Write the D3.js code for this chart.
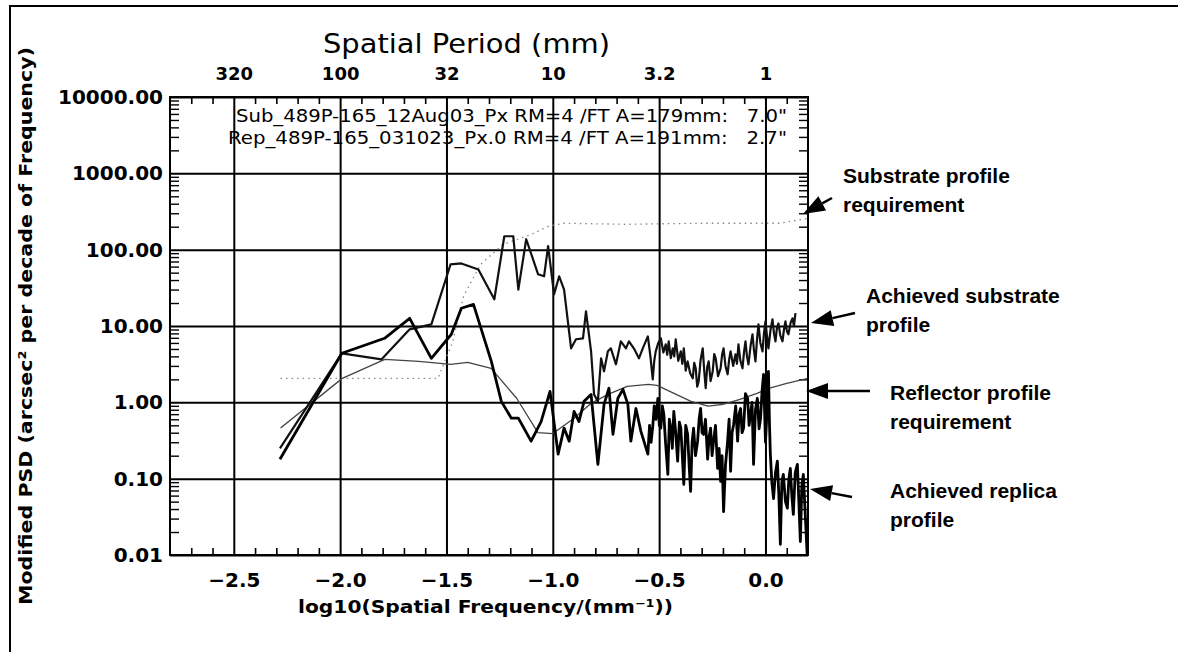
<!DOCTYPE html>
<html>
<head>
<meta charset="utf-8">
<script src="https://cdn.jsdelivr.net/npm/d3@7"></script>
<style>
body { margin: 0; background: #fff; overflow: hidden; }
text { fill: #000; }
</style>
</head>
<body>
<div id="chart"></div>
<script>
const width = 1178
const height = 652
const plot = { left: 170, right: 808, top: 97, bottom: 555 }

// ticks
const xMajor = [-2.5, -2.0, -1.5, -1.0, -0.5, 0.0]
const periodLabels = ["320", "100", "32", "10", "3.2", "1"]
const yMajor = [0.01, 0.1, 1, 10, 100, 1000, 10000]

// substrate profile requirement (dotted)
const subReqX = [-2.28, -1.54, -1.47, -1.42, -1.34, -1.235, -1.10, -1.02, -0.95, -0.66, -0.30, 0.07, 0.20]
const subReqY = [2.06, 2.06, 6.3, 24.5, 64, 117, 159, 203, 222, 215, 222, 222, 258]

// reflector profile requirement (thin)
const refReqX = [-2.28, -1.99, -1.79, -1.63, -1.48, -1.40, -1.29, -1.17, -1.07, -1.0, -0.90, -0.82, -0.74, -0.65, -0.55, -0.51, -0.43, -0.35, -0.27, -0.20, -0.12, -0.04, 0.02, 0.10, 0.20]
const refReqY = [0.46, 2.06, 3.66, 3.44, 3.15, 3.34, 2.79, 1.13, 0.40, 0.39, 0.62, 0.97, 1.27, 1.62, 1.72, 1.67, 1.31, 1.03, 0.89, 0.94, 1.09, 1.31, 1.53, 1.77, 2.06]

// achieved substrate profile
const subAchX = [-2.283, -1.992, -1.805, -1.673, -1.571, -1.481, -1.430, -1.350, -1.275, -1.228, -1.186, -1.162, -1.125, -1.069, -1.041, -1.022, -0.994, -0.970, -0.947, -0.914, -0.891, -0.858, -0.844, -0.820, -0.806, -0.788, -0.773, -0.759, -0.741, -0.727, -0.703, -0.680, -0.656, -0.642, -0.619, -0.595, -0.577,
    -0.553, -0.541, -0.530, -0.523, -0.516, -0.504, -0.492, -0.480, -0.469, -0.462, -0.455, -0.445, -0.436, -0.429, -0.422, -0.410, -0.398, -0.391, -0.384, -0.375, -0.366, -0.354, -0.342, -0.335, -0.328, -0.321, -0.314, -0.305, -0.295, -0.288, -0.281, -0.274, -0.267, -0.258, -0.248, -0.241, -0.234, -0.223, -0.211, -0.204, -0.197, -0.188, -0.178, -0.171, -0.164, -0.152, -0.141, -0.134, -0.127, -0.118, -0.108, -0.101, -0.094, -0.087, -0.080, -0.070, -0.061, -0.054, -0.047, -0.040, -0.033, -0.024, -0.014, -0.007, 0.0, 0.007, 0.014, 0.024, 0.033, 0.040, 0.047, 0.054, 0.061, 0.070, 0.080, 0.087, 0.094, 0.101, 0.108, 0.118, 0.127, 0.134, 0.141]
const subAchY = [0.25, 4.39, 3.66, 9.05, 10.5, 64, 66, 55, 22.4, 150, 150, 30, 137, 47.6, 44.8, 111, 26, 44.8, 30, 5.1, 6.7, 6.9, 15.6, 4.66, 1.27, 1.03, 3.77, 2.55, 4.66, 5.1, 3.15, 6.3, 5.1, 6.3, 5.1, 3.77, 5.1,
    7.3, 4.0, 2.0, 3.5, 4.66, 6.0, 6.9, 4.5, 5.75, 4.2, 6.3, 3.8, 5.1, 4.0, 6.7, 3.5, 4.66, 3.2, 5.1, 2.6, 3.44, 2.4, 2.06, 3.3, 2.79, 1.6, 1.88, 3.6, 5.1, 2.6, 1.53, 2.9, 3.44, 1.9, 2.55, 4.3, 3.77, 2.2, 2.79, 4.2, 5.1, 3.0, 2.33, 3.6, 4.66, 3.0, 4.26, 3.2, 5.75, 3.5, 2.79, 4.5, 6.3, 4.0, 3.15, 5.5, 7.8, 4.8, 3.44, 6.5, 10.5, 6.0, 4.66, 8.0, 11.5, 7.5, 5.1, 9.0, 12.2, 8.0, 6.3, 9.5, 10.8, 7.5, 6.3, 9.0, 11.5, 8.5, 7.8, 11.0, 12.6, 10.0, 14.7]

// achieved replica profile
const repAchX = [-2.283, -1.992, -1.791, -1.673, -1.571, -1.477, -1.430, -1.373, -1.289, -1.242, -1.195, -1.162, -1.102, -1.055, -1.013, -0.975, -0.947, -0.923, -0.900, -0.877, -0.853, -0.820, -0.788, -0.759, -0.736, -0.717, -0.694, -0.670, -0.647, -0.633, -0.609, -0.586,
    -0.553, -0.545, -0.538, -0.530, -0.523, -0.515, -0.506, -0.499, -0.492, -0.485, -0.478, -0.470, -0.459, -0.452, -0.445, -0.438, -0.431, -0.422, -0.413, -0.405, -0.398, -0.391, -0.384, -0.375, -0.366, -0.359, -0.352, -0.345, -0.338, -0.329, -0.319, -0.312, -0.305, -0.298, -0.291, -0.282, -0.272, -0.265, -0.258, -0.251, -0.244, -0.235, -0.225, -0.218, -0.211, -0.204, -0.197, -0.188, -0.178, -0.171, -0.164, -0.157, -0.150, -0.140, -0.131, -0.124, -0.117, -0.110, -0.103, -0.094, -0.084, -0.077, -0.070, -0.063, -0.056, -0.047, -0.038, -0.030, -0.023, -0.016, -0.009, 0.000, 0.005, 0.010, 0.014, 0.019, 0.023, 0.030, 0.038, 0.047, 0.056, 0.063, 0.070, 0.077, 0.084, 0.094, 0.103, 0.110, 0.117, 0.124, 0.131, 0.140, 0.150, 0.157, 0.164, 0.171, 0.178, 0.188, 0.197]
const repAchY = [0.18, 4.39, 6.9, 12.6, 3.77, 7.8, 17.1, 19.2, 3.44, 1.03, 0.62, 0.62, 0.31, 0.56, 1.39, 0.21, 0.46, 0.31, 0.76, 0.56, 1.03, 1.27, 0.154, 0.94, 1.53, 0.38, 1.13, 1.48, 0.94, 0.31, 0.83, 0.42,
    0.21, 0.5, 0.3, 0.48, 0.9, 0.6, 1.13, 0.5, 0.46, 0.9, 0.70, 0.3, 0.114, 0.6, 0.46, 0.25, 0.76, 0.4, 0.17, 0.55, 0.46, 0.2, 0.084, 0.5, 0.38, 0.15, 0.068, 0.3, 0.46, 0.2, 0.31, 0.6, 0.83, 0.4, 0.38, 0.6, 0.18, 0.35, 0.46, 0.2, 0.31, 0.5, 0.136, 0.25, 0.092, 0.2, 0.037, 0.15, 0.31, 0.6, 0.125, 0.4, 0.51, 0.9, 0.31, 0.7, 0.83, 0.4, 0.46, 1.3, 1.13, 0.5, 0.70, 1.0, 0.154, 0.8, 1.13, 0.45, 0.62, 1.4, 2.33, 0.3, 0.56, 1.8, 2.55, 0.5, 0.21, 0.09, 0.055, 0.12, 0.17, 0.06, 0.0138, 0.09, 0.114, 0.05, 0.041, 0.1, 0.136, 0.06, 0.034, 0.12, 0.154, 0.05, 0.015, 0.08, 0.114, 0.03, 0.009]

const legendLines = [
    "Sub_489P-165_12Aug03_Px RM=4 /FT A=179mm:   7.0\"",
    "Rep_489P-165_031023_Px.0 RM=4 /FT A=191mm:   2.7\""
]

const notes = [
    { lines: ["Substrate profile", "requirement"], x: 843, y: 183, tip: [803, 214], tail: [832, 198] },
    { lines: ["Achieved substrate", "profile"], x: 866, y: 303, tip: [811, 323], tail: [855, 313] },
    { lines: ["Reflector profile", "requirement"], x: 890, y: 400, tip: [806, 391], tail: [870, 391] },
    { lines: ["Achieved replica", "profile"], x: 890, y: 498, tip: [810, 489], tail: [852, 497] }
]

const svg = d3.select("#chart").append("svg").attr("width", width).attr("height", height)

// outer frame (top and left only)
svg.append("path").attr("d", `M10,${height} L10,6 L${width},6`)
    .attr("fill", "none").attr("stroke", "#000").attr("stroke-width", 2)

// escalas
const x = d3.scaleLinear().domain([-2.8, 0.2]).range([plot.left, plot.right])
const y = d3.scaleLog().domain([0.01, 10000]).range([plot.bottom, plot.top])
const pw = plot.right - plot.left
const ph = plot.bottom - plot.top

const yMinor = []
yMajor.slice(0, -1).forEach(d => { for (let k = 2; k <= 9; k++) yMinor.push(d * k) })
const xMinor = d3.range(-27, 2).map(d => d / 10).filter(d => Math.abs(d * 2 - Math.round(d * 2)) > 1e-6)

const styleTicks = (g, w) => {
    g.select(".domain").remove()
    g.selectAll("line").attr("stroke", "#000").attr("stroke-width", w)
}

// gridlines
svg.append("g").attr("transform", `translate(0,${plot.bottom})`)
    .call(d3.axisBottom(x).tickValues(xMajor).tickSize(-ph).tickFormat(""))
    .call(g => styleTicks(g, 2))
svg.append("g").attr("transform", `translate(${plot.left},0)`)
    .call(d3.axisLeft(y).tickValues(yMajor).tickSize(-pw).tickFormat(""))
    .call(g => styleTicks(g, 2))

// minor ticks
svg.append("g").attr("transform", `translate(0,${plot.bottom})`)
    .call(d3.axisBottom(x).tickValues(xMinor).tickSize(-7).tickFormat(""))
    .call(g => styleTicks(g, 1.6))
svg.append("g").attr("transform", `translate(0,${plot.top})`)
    .call(d3.axisTop(x).tickValues(xMinor).tickSize(-7).tickFormat(""))
    .call(g => styleTicks(g, 1.6))
svg.append("g").attr("transform", `translate(${plot.left},0)`)
    .call(d3.axisLeft(y).tickValues(yMinor).tickSize(-9).tickFormat(""))
    .call(g => styleTicks(g, 1.4))
svg.append("g").attr("transform", `translate(${plot.right},0)`)
    .call(d3.axisRight(y).tickValues(yMinor).tickSize(-9).tickFormat(""))
    .call(g => styleTicks(g, 1.4))

// axis labels
const xAxis = svg.append("g").attr("transform", `translate(0,${plot.bottom})`)
    .call(d3.axisBottom(x).tickValues(xMajor).tickSize(0).tickPadding(18).tickFormat(d3.format(".1f")))
xAxis.select(".domain").remove()
xAxis.selectAll("text").attr("font-family", "DejaVu Sans").attr("font-weight", "bold").attr("font-size", 20)

const topAxis = svg.append("g").attr("transform", `translate(0,${plot.top})`)
    .call(d3.axisTop(x).tickValues(xMajor).tickSize(0).tickPadding(17).tickFormat((d, i) => periodLabels[i]))
topAxis.select(".domain").remove()
topAxis.selectAll("text").attr("font-family", "DejaVu Sans").attr("font-weight", "bold").attr("font-size", 18)

const yAxis = svg.append("g").attr("transform", `translate(${plot.left},0)`)
    .call(d3.axisLeft(y).tickValues(yMajor).tickSize(0).tickPadding(7).tickFormat(d3.format(".2f")))
yAxis.select(".domain").remove()
yAxis.selectAll("text").attr("font-family", "DejaVu Sans").attr("font-weight", "bold").attr("font-size", 20)

// legend text
svg.append("g").selectAll("text").data(legendLines).enter().append("text")
    .attr("x", (d, i) => i == 0 ? 236 : 228)
    .attr("y", (d, i) => 122 + i * 22)
    .attr("textLength", (d, i) => i == 0 ? 551 : 559)
    .attr("lengthAdjust", "spacingAndGlyphs")
    .attr("font-family", "DejaVu Sans").attr("font-size", 17)
    .style("white-space", "pre")
    .text(d => d)

// lines
svg.append("clipPath").attr("id", "clip").append("rect")
    .attr("x", plot.left).attr("y", plot.top).attr("width", pw).attr("height", ph)
const elementGroup = svg.append("g").attr("clip-path", "url(#clip)")
const line = d3.line().x(d => x(d[0])).y(d => y(d[1]))
const series = [
    { xs: subReqX, ys: subReqY, color: "#888", w: 1.3, dash: "1.5,4" },
    { xs: refReqX, ys: refReqY, color: "#444", w: 1.3, dash: null },
    { xs: subAchX, ys: subAchY, color: "#111", w: 2.2, dash: null },
    { xs: repAchX, ys: repAchY, color: "#000", w: 2.8, dash: null }
]
series.forEach(s => {
    elementGroup.append("path")
        .datum(s.xs.map((v, i) => [v, s.ys[i]]))
        .attr("d", line)
        .attr("fill", "none")
        .attr("stroke", s.color)
        .attr("stroke-width", s.w)
        .attr("stroke-linejoin", "round")
        .attr("stroke-dasharray", s.dash)
})

// plot border
svg.append("rect").attr("x", plot.left).attr("y", plot.top).attr("width", pw).attr("height", ph)
    .attr("fill", "none").attr("stroke", "#000").attr("stroke-width", 2)

// titles
svg.append("text").attr("x", 323).attr("y", 53).attr("textLength", 287).attr("lengthAdjust", "spacingAndGlyphs")
    .attr("font-family", "DejaVu Sans").attr("font-size", 27)
    .text("Spatial Period (mm)")
svg.append("text").attr("x", 298).attr("y", 613).attr("textLength", 375).attr("lengthAdjust", "spacingAndGlyphs")
    .attr("font-family", "DejaVu Sans").attr("font-weight", "bold").attr("font-size", 18)
    .text("log10(Spatial Frequency/(mm⁻¹))")
svg.append("text").attr("transform", "translate(32,605) rotate(-90)")
    .attr("textLength", 558).attr("lengthAdjust", "spacingAndGlyphs")
    .attr("font-family", "DejaVu Sans").attr("font-weight", "bold").attr("font-size", 18)
    .text("Modified PSD (arcsec² per decade of Frequency)")

// annotations
notes.forEach(n => {
    const g = svg.append("g")
    n.lines.forEach((t, i) => {
        g.append("text").attr("x", n.x).attr("y", n.y + i * 29)
            .attr("font-family", "Liberation Sans, Arial, sans-serif").attr("font-weight", "bold").attr("font-size", 21)
            .text(t)
    })
    const dx = n.tip[0] - n.tail[0], dy = n.tip[1] - n.tail[1]
    const len = Math.sqrt(dx * dx + dy * dy)
    const ux = dx / len, uy = dy / len
    const hl = 22, hw = 8
    const bx = n.tip[0] - ux * hl, by = n.tip[1] - uy * hl
    g.append("line").attr("x1", n.tail[0]).attr("y1", n.tail[1]).attr("x2", bx).attr("y2", by)
        .attr("stroke", "#000").attr("stroke-width", 2.5)
    g.append("polygon")
        .attr("points", [[n.tip[0], n.tip[1]], [bx - uy * hw, by + ux * hw], [bx + uy * hw, by - ux * hw]].map(p => p.join(",")).join(" "))
        .attr("fill", "#000")
})
</script>
</body>
</html>
